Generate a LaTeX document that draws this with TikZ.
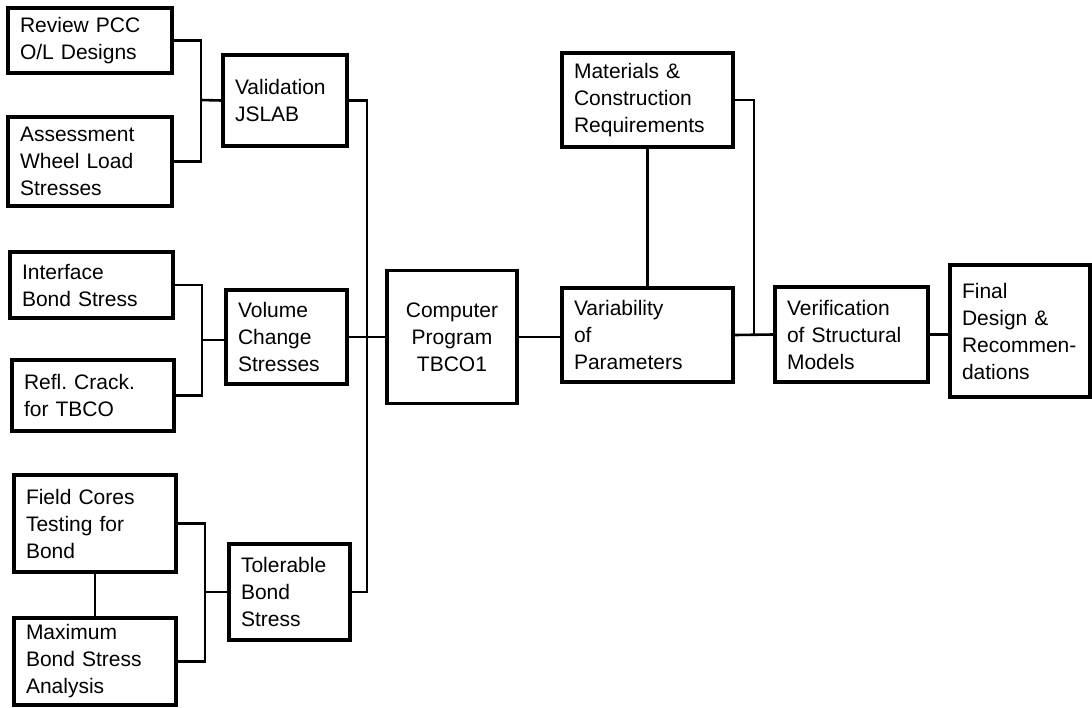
\documentclass[tikz,border=0pt]{standalone}
\usepackage{fontspec}
\setmainfont{Liberation Sans}

\begin{document}
\begin{tikzpicture}
[x=1pt,y=-1pt,
blk/.style 2 args={draw,line width=3.2pt,inner xsep=12pt,inner ysep=0pt,text width=#1pt,minimum height=#2pt,align=left,font=\fontsize{21}{27}\selectfont},
conn/.style={line width=2.6pt},]

\useasboundingbox (0,0) rectangle (1092,707);

%Input boxes
\node (rev) at (90,40.5)[blk={140}{65}] {Review PCC\\O/L Designs};
\node (asm) at (90,161.5)[blk={140}{89}] {Assessment\\Wheel Load\\Stresses};
\node (ifb) at (91.5,285)[blk={139}{66}] {Interface\\Bond Stress};
\node (rfc) at (93,395.5)[blk={138}{71}] {Refl.\ Crack.\\for TBCO};
\node (fld) at (95,523.5)[blk={138}{97}] {Field Cores\\Testing for\\Bond};
\node (max) at (95,661.5)[blk={138}{87}] {Maximum\\Bond Stress\\Analysis};

%Second column
\node (val) at (285,100.5)[blk={100}{91}] {Validation\\JSLAB};
\node (vol) at (286.5,337)[blk={97}{94}] {Volume\\Change\\Stresses};
\node (tol) at (289.5,592)[blk={97}{96}] {Tolerable\\Bond\\Stress};

%Main line
\node (cpt) at (452,337)[blk={106}{133},align=center] {Computer\\Program\\TBCO1};
\node (mat) at (647.5,100)[blk={147}{94}] {Materials \&\\Construction\\Requirements};
\node (var) at (647.5,335)[blk={147}{94}] {Variability\\of\\Parameters};
\node (ver) at (851.5,334.5)[blk={129}{95}] {Verification\\of Structural\\Models};
\node (fin) at (1020,331)[blk={116}{132}] {Final\\Design \&\\Recommen-\\dations};

%Junctions
\coordinate (j1) at (201,100);
\coordinate (j2) at (202,340);
\coordinate (j3) at (205,592);
\coordinate (b1) at (367,100.5);
\coordinate (b2) at (367,592);
\coordinate (j4) at (754,335);

%Brackets
\draw[conn] (rev.east) -| (j1) |- (asm.east);
\draw[conn] (j1) -- (val.west);
\draw[conn] (ifb.east) -| (j2) |- (rfc.east);
\draw[conn] (j2) -- (j2 -| vol.west);
\draw[conn] (fld.east) -| (j3) |- (max.east);
\draw[conn] (j3) -- (tol.west);
\draw[conn] (fld.south) -- (max.north);

%Bus into program
\draw[conn] (val.east) -- (b1) -- (b2) -- (tol.east);
\draw[conn] (vol.east) -- (cpt.west);

%Right part
\draw[conn] (cpt.east) -- (cpt.east -| var.west);
\draw[conn] (mat.south) -- (var.north);
\draw[conn] (mat.east) -| (j4);
\draw[conn] (var.east) -- (ver.west);
\draw[conn] (ver.east) -- (ver.east -| fin.west);

\end{tikzpicture}
\end{document}
